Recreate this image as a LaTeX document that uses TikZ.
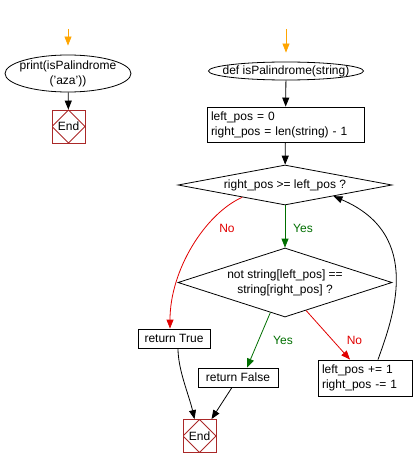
\documentclass[tikz,border=0pt]{standalone}
\usepackage{fontspec}
\setmainfont{Liberation Sans}
\usetikzlibrary{positioning,shapes.geometric,arrows.meta}
\definecolor{startorange}{RGB}{255,165,0}
\definecolor{yesgreen}{RGB}{0,110,0}
\definecolor{nored}{RGB}{225,0,0}
\definecolor{endred}{RGB}{170,40,40}

\begin{document}
\begin{tikzpicture}[x=1pt,y=-1pt,line width=0.8pt,
		>={Triangle[length=9pt,width=7pt]},
		every node/.style={font=\fontsize{12}{15}\selectfont, inner sep=0pt},
		terminal/.style={rectangle, align=center},
		box/.style={draw, rectangle},
		decision/.style={draw, diamond, align=center},
		endbox/.style={draw=endred, rectangle, minimum size=33pt,
				path picture={\draw[endred] (path picture bounding box.north) -- (path picture bounding box.east)
						-- (path picture bounding box.south) -- (path picture bounding box.west) -- cycle;}},
		flow/.style={->},
		startflow/.style={->, draw=startorange, shorten >=9pt},
		yesflow/.style={->, draw=yesgreen},
		noflow/.style={->, draw=nored}]
	\useasboundingbox (0,0) rectangle (416,468);

	\coordinate (s1) at (68,29);
	\node[terminal, minimum width=126pt, minimum height=37pt] (print) at (68,73.5) {print(isPalindrome\\('aza'))};
	\node[endbox] (end1) at (68.5,126.5) {End};

	\coordinate (s2) at (286,29);
	\node[terminal, minimum width=155pt, minimum height=18pt] (def) at (286,71) {def isPalindrome(string)};
	\node[box, text width=149pt, inner xsep=4pt, align=left, minimum height=35pt] (init) at (285.5,124.5)
		{left\_pos = 0\\right\_pos = len(string) - 1};
	\node[decision, aspect=5.35, minimum width=214pt, minimum height=40pt] (d1) at (285,185) {right\_pos >= left\_pos ?};
	\node[decision, aspect=3.1, minimum width=214pt, minimum height=69pt] (d2) at (285,282.5)
		{not string[left\_pos] ==\\string[right\_pos] ?};
	\node[box, minimum width=72pt, minimum height=19pt] (rt) at (174,338.5) {return True};
	\node[box, minimum width=80pt, minimum height=19pt] (rf) at (238,377.5) {return False};
	\node[box, text width=86pt, inner xsep=4pt, align=left, minimum height=36pt] (upd) at (365,378)
		{left\_pos += 1\\right\_pos -= 1};
	\node[endbox] (end2) at (199.5,436) {End};

	\draw (print.center) ellipse [x radius=63pt, y radius=18.5pt];
	\draw (def.center) ellipse [x radius=77.5pt, y radius=9pt];

	\draw[startflow] (s1) -- (print);
	\draw[startflow] (s2) -- (def);
	\draw[flow] (print) -- (end1);
	\draw[flow] (def) -- (init);
	\draw[flow] (init) -- (d1);
	\draw[yesflow] (d1) -- (d2);
	\node[text=yesgreen] (yes1) at (303,228) {Yes};
	\draw[noflow] (d1.196) .. controls (205,214) and (170,270) .. ([xshift=-4pt]rt.north);
	\node[text=nored] (no1) at (227,228) {No};
	\draw[yesflow] (d2.244) -- ([xshift=9pt]rf.north);
	\node[text=yesgreen] (yes2) at (283,340) {Yes};
	\draw[noflow] (d2.307) -- ([xshift=-15pt]upd.north);
	\node[text=nored] (no2) at (354.5,340) {No};
	\draw[flow] ([xshift=13pt]upd.north) .. controls (392,320) and (425,235) .. (d1.347);
	\draw[flow] ([xshift=4pt]rt.south) .. controls (178,370) and (189,395) .. ([xshift=-5pt]end2.north);
	\draw[flow] ([xshift=-6pt]rf.south) -- ([xshift=12pt]end2.north);
\end{tikzpicture}
\end{document}
